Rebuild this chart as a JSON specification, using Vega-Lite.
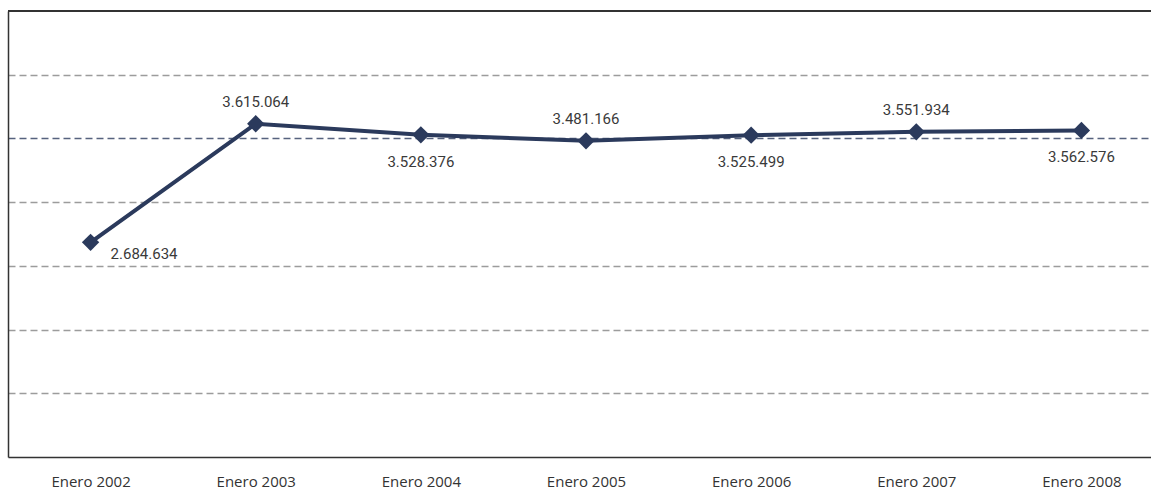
{
  "$schema": "https://vega.github.io/schema/vega-lite/v6.json",
  "width": 1156,
  "height": 446,
  "autosize": {"type": "none"},
  "padding": {"left": 8, "top": 11, "right": 0, "bottom": 33},
  "background": "white",
  "config": {
    "locale": {"number": {"decimal": ",", "thousands": ".", "grouping": [3], "currency": ["", " €"]}},
    "view": {"stroke": null}
  },
  "data": {
    "values": [
      {"fecha": "Enero 2002", "valor": 2684634},
      {"fecha": "Enero 2003", "valor": 3615064},
      {"fecha": "Enero 2004", "valor": 3528376},
      {"fecha": "Enero 2005", "valor": 3481166},
      {"fecha": "Enero 2006", "valor": 3525499},
      {"fecha": "Enero 2007", "valor": 3551934},
      {"fecha": "Enero 2008", "valor": 3562576}
    ]
  },
  "encoding": {
    "x": {
      "field": "fecha",
      "type": "ordinal",
      "sort": null,
      "scale": {"type": "point", "padding": 0.5},
      "axis": {
        "title": null,
        "labelAngle": 0,
        "domain": true,
        "domainColor": "#333333",
        "domainWidth": 1.5,
        "ticks": false,
        "labelPadding": 17,
        "labelFont": "Open Sans",
        "labelFontSize": 15,
        "labelColor": "#333333"
      }
    },
    "y": {
      "field": "valor",
      "type": "quantitative",
      "scale": {"domain": [1000000, 4500000], "nice": false, "zero": false},
      "axis": {
        "title": null,
        "labels": false,
        "ticks": false,
        "domain": true,
        "domainColor": "#333333",
        "domainWidth": 1.5,
        "values": [1500000, 2000000, 2500000, 3000000, 3500000, 4000000],
        "grid": true,
        "gridDash": [7, 4],
        "gridWidth": 1.3,
        "gridColor": {"condition": {"test": "datum.value === 3500000", "value": "#56627e"}, "value": "#9c9c9c"}
      }
    }
  },
  "layer": [
    {
      "mark": {"type": "rule", "color": "#333333", "strokeWidth": 1.5},
      "encoding": {"y": {"datum": 4500000}, "x": null}
    },
    {
      "mark": {"type": "line", "color": "#2b3a5c", "strokeWidth": 4}
    },
    {
      "mark": {"type": "point", "shape": "diamond", "filled": true, "size": 300, "color": "#2b3a5c", "opacity": 1}
    },
    {
      "transform": [{"filter": "indexof(['Enero 2003','Enero 2005','Enero 2007'], datum.fecha) >= 0"}],
      "mark": {"type": "text", "font": "Roboto", "fontSize": 15, "color": "#3a3a3a", "dy": -22, "baseline": "middle"},
      "encoding": {"text": {"field": "valor", "type": "quantitative", "format": ",d"}}
    },
    {
      "transform": [{"filter": "indexof(['Enero 2004','Enero 2006','Enero 2008'], datum.fecha) >= 0"}],
      "mark": {"type": "text", "font": "Roboto", "fontSize": 15, "color": "#3a3a3a", "dy": 27, "baseline": "middle"},
      "encoding": {"text": {"field": "valor", "type": "quantitative", "format": ",d"}}
    },
    {
      "transform": [{"filter": "datum.fecha === 'Enero 2002'"}],
      "mark": {"type": "text", "font": "Roboto", "fontSize": 15, "color": "#3a3a3a", "dx": 20, "dy": 12, "align": "left", "baseline": "middle"},
      "encoding": {"text": {"field": "valor", "type": "quantitative", "format": ",d"}}
    }
  ]
}
